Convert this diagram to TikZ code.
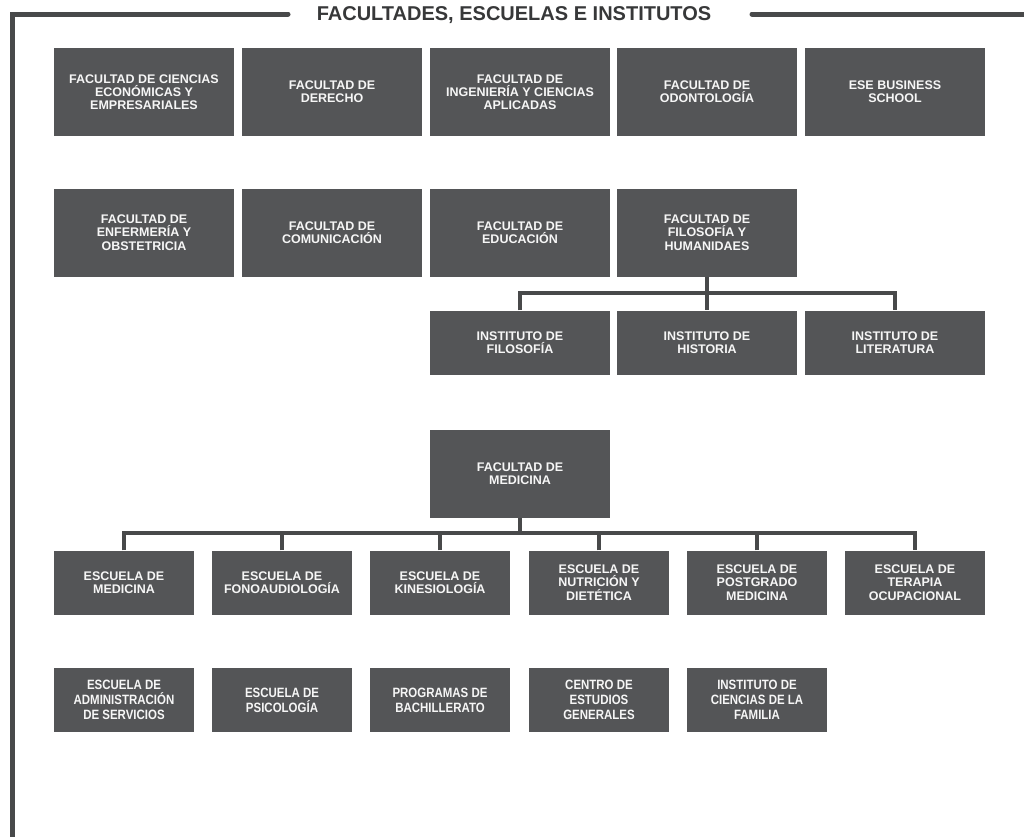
\documentclass[tikz,border=0pt]{standalone}
\usepackage{fontspec}
\setmainfont{Liberation Sans}
\newfontfamily\boxfont{Liberation Sans}[BoldFont={* Bold}]
\newfontfamily\condfont{Liberation Sans Bold}[FakeStretch=0.85]
\definecolor{boxgray}{RGB}{84,85,87}
\definecolor{linegray}{RGB}{72,73,74}
\definecolor{titlegray}{RGB}{55,56,57}
\definecolor{boxtext}{RGB}{246,246,246}

\tikzset{
  unitbox/.style={fill=boxgray, draw=none, text=boxtext, align=center,
    inner sep=0pt, font=\boxfont\bfseries\fontsize{12.5}{13.2}\selectfont},
  bigbox/.style={unitbox, minimum width=180pt, minimum height=88pt},
  midbox/.style={unitbox, minimum width=180pt, minimum height=64pt},
  smallbox/.style={unitbox, minimum width=140pt, minimum height=64pt},
  condbox/.style={smallbox, font=\condfont\fontsize{13.5}{15}\selectfont},
  link/.style={draw=linegray, line width=4pt, line join=miter},
  frameline/.style={draw=linegray, line width=5pt},
}

\begin{document}
\begin{tikzpicture}[x=1pt, y=-1pt]
\useasboundingbox (0,0) rectangle (1024,836);

% outer frame and heading
\draw[frameline, line cap=round] (288,14) -- (12,14) -- (12,850);
\draw[frameline, line cap=round] (752,14) -- (1040,14);
\node[anchor=base, text=titlegray, font=\bfseries\fontsize{20}{21}\selectfont,
  inner sep=0pt] (title) at (514,20.5) {FACULTADES, ESCUELAS E INSTITUTOS};

% first row of faculties
\node[bigbox] (econ) at (144,92) {FACULTAD DE CIENCIAS\\ECONÓMICAS Y\\EMPRESARIALES};
\node[bigbox] (dere) at (332,92) {FACULTAD DE\\DERECHO};
\node[bigbox] (inge) at (520,92) {FACULTAD DE\\INGENIERÍA Y CIENCIAS\\APLICADAS};
\node[bigbox] (odon) at (707,92) {FACULTAD DE\\ODONTOLOGÍA};
\node[bigbox] (ese)  at (895,92) {ESE BUSINESS\\SCHOOL};

% second row of faculties
\node[bigbox] (enfe) at (144,232.5) {FACULTAD DE\\ENFERMERÍA Y\\OBSTETRICIA};
\node[bigbox] (comu) at (332,232.5) {FACULTAD DE\\COMUNICACIÓN};
\node[bigbox] (educ) at (520,232.5) {FACULTAD DE\\EDUCACIÓN};
\node[bigbox] (filo) at (707,232.5) {FACULTAD DE\\FILOSOFÍA Y\\HUMANIDAES};

% institutes under philosophy
\node[midbox] (ifil) at (520,342.5) {INSTITUTO DE\\FILOSOFÍA};
\node[midbox] (ihis) at (707,342.5) {INSTITUTO DE\\HISTORIA};
\node[midbox] (ilit) at (895,342.5) {INSTITUTO DE\\LITERATURA};

\coordinate (fbus) at (707,293);
\draw[link] (filo.south) -- (ihis.north);
\draw[link] (ifil.north) -- (ifil.north |- fbus) -- (ilit.north |- fbus) -- (ilit.north);

% medicine and its schools
\node[bigbox] (medi) at (520,474) {FACULTAD DE\\MEDICINA};

\node[smallbox] (emed) at (124,582.5) {ESCUELA DE\\MEDICINA};
\node[smallbox] (efon) at (282,582.5) {ESCUELA DE\\FONOAUDIOLOGÍA};
\node[smallbox] (ekin) at (440,582.5) {ESCUELA DE\\KINESIOLOGÍA};
\node[smallbox] (enut) at (599,582.5) {ESCUELA DE\\NUTRICIÓN Y\\DIETÉTICA};
\node[smallbox] (epos) at (757,582.5) {ESCUELA DE\\POSTGRADO\\MEDICINA};
\node[smallbox] (eter) at (915,582.5) {ESCUELA DE\\TERAPIA\\OCUPACIONAL};

\coordinate (mbus) at (520,533);
\draw[link] (medi.south) -- (mbus);
\draw[link] (emed.north) -- (emed.north |- mbus) -- (eter.north |- mbus) -- (eter.north);
\foreach \n in {efon,ekin,enut,epos}
  \draw[link] (\n.north) -- (\n.north |- mbus);

% remaining units
\node[condbox] (eadm) at (124,700) {ESCUELA DE\\ADMINISTRACIÓN\\DE SERVICIOS};
\node[condbox] (epsi) at (282,700) {ESCUELA DE\\PSICOLOGÍA};
\node[condbox] (pbac) at (440,700) {PROGRAMAS DE\\BACHILLERATO};
\node[condbox] (cest) at (599,700) {CENTRO DE\\ESTUDIOS\\GENERALES};
\node[condbox] (ifam) at (757,700) {INSTITUTO DE\\CIENCIAS DE LA\\FAMILIA};
\end{tikzpicture}
\end{document}
